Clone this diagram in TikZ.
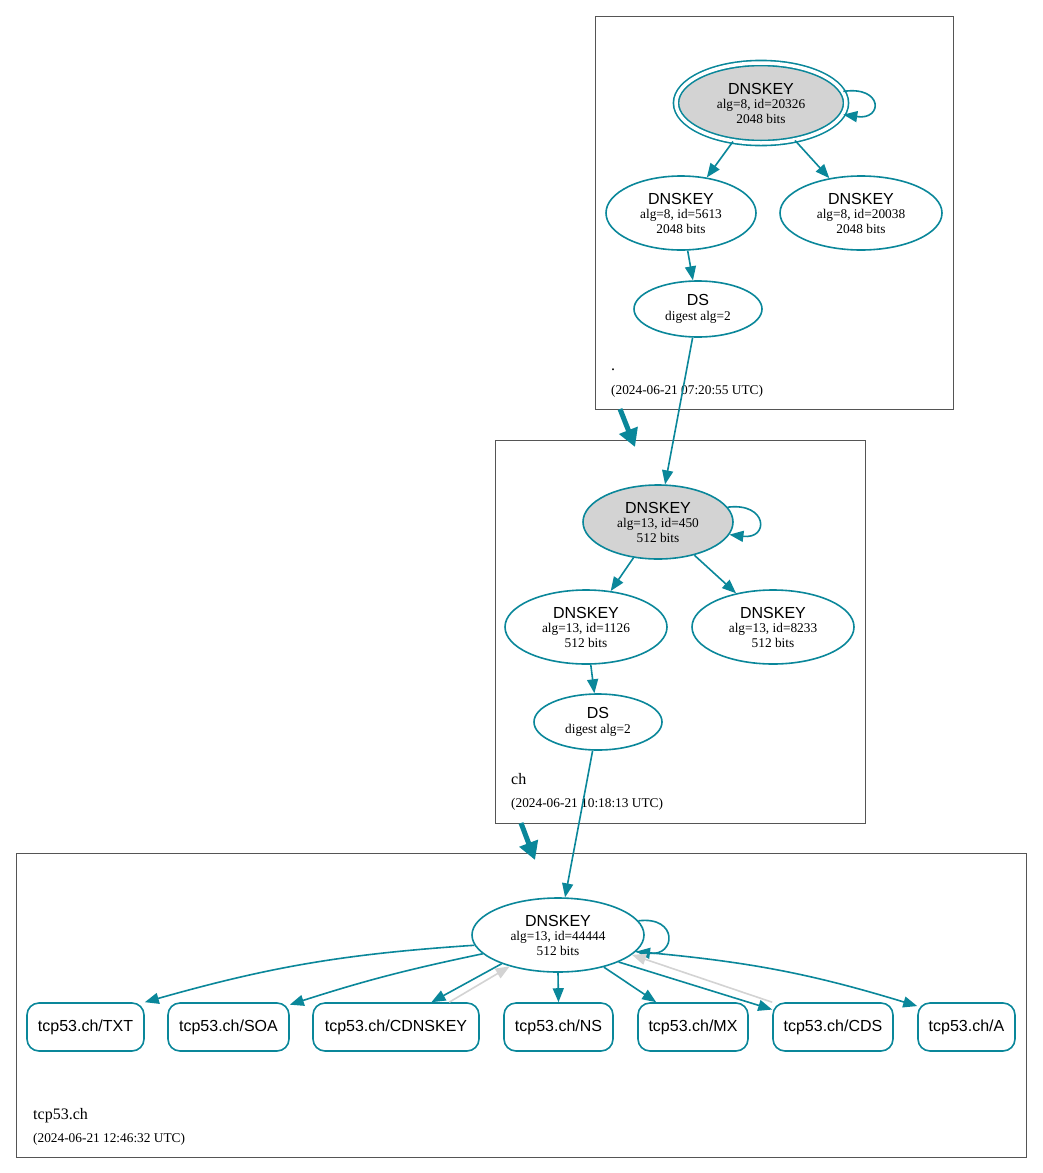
\documentclass[tikz,border=0pt]{standalone}
\usepackage{fontspec}
\setmainfont{Liberation Serif}
\setsansfont{Liberation Sans}
\usetikzlibrary{shapes.geometric,arrows.meta}
\definecolor{dteal}{HTML}{0A879A}
\definecolor{kgray}{HTML}{D3D3D3}
\definecolor{framec}{HTML}{555555}
\begin{document}
\begin{tikzpicture}[x=1pt,y=1pt,
 key/.style={ellipse, draw=dteal, line width=1.6pt, inner sep=0pt, align=center,
   font=\fontsize{13.33}{14.5}\selectfont},
 rr/.style={draw=dteal, line width=1.6pt, rounded corners=12pt, minimum height=48pt,
   inner sep=0pt, font=\fontsize{16}{18}\selectfont\sffamily},
 e/.style={draw=dteal, line width=1.6pt, -{Triangle[length=14pt,width=11pt]}},
 eg/.style={draw=kgray, line width=1.6pt, -{Triangle[length=14pt,width=11pt]}},
 fat/.style={draw=dteal, line width=5pt, -{Triangle[length=18pt,width=19pt]}},
 clus/.style={draw=framec, line width=0.8pt},
 clab/.style={anchor=base west, inner sep=0pt, font=\fontsize{16}{18}\selectfont},
 cts/.style={anchor=base west, inner sep=0pt, font=\fontsize{13.33}{15}\selectfont}]
\useasboundingbox (0,0) rectangle (1043,-1173);
\fill[white] (0,0) rectangle (1043,-1173);

% clusters
\draw[clus] (595,-16) rectangle (953,-409);
\draw[clus] (495,-440) rectangle (865,-823);
\draw[clus] (16,-853) rectangle (1026,-1157);

\node[clab] (l1) at (611,-370) {.};
\node[cts] (t1) at (611,-394) {(2024-06-21 07:20:55 UTC)};
\node[clab] (l2) at (511,-784) {ch};
\node[cts] (t2) at (511,-807) {(2024-06-21 10:18:13 UTC)};
\node[clab] (l3) at (33,-1119) {tcp53.ch};
\node[cts] (t3) at (33,-1142) {(2024-06-21 12:46:32 UTC)};

% root zone
\node[key, minimum width=170pt, minimum height=80pt, fill=kgray, double=white, double distance=3.5pt]
  (k1) at (761,-103) {{\fontsize{16}{16}\selectfont\sffamily DNSKEY}\\alg=8, id=20326\\2048 bits};
\node[key, minimum width=150pt, minimum height=74pt] (z1) at (681,-213)
  {{\fontsize{16}{16}\selectfont\sffamily DNSKEY}\\alg=8, id=5613\\2048 bits};
\node[key, minimum width=162pt, minimum height=74pt] (z2) at (861,-213)
  {{\fontsize{16}{16}\selectfont\sffamily DNSKEY}\\alg=8, id=20038\\2048 bits};
\node[key, minimum width=128pt, minimum height=56pt] (ds1) at (698,-309)
  {{\fontsize{16}{16}\selectfont\sffamily DS}\\digest alg=2};

% ch zone
\node[key, minimum width=150pt, minimum height=74pt, fill=kgray] (k2) at (658,-522)
  {{\fontsize{16}{16}\selectfont\sffamily DNSKEY}\\alg=13, id=450\\512 bits};
\node[key, minimum width=162pt, minimum height=74pt] (z3) at (586,-627)
  {{\fontsize{16}{16}\selectfont\sffamily DNSKEY}\\alg=13, id=1126\\512 bits};
\node[key, minimum width=162pt, minimum height=74pt] (z4) at (773,-627)
  {{\fontsize{16}{16}\selectfont\sffamily DNSKEY}\\alg=13, id=8233\\512 bits};
\node[key, minimum width=128pt, minimum height=56pt] (ds2) at (598,-722)
  {{\fontsize{16}{16}\selectfont\sffamily DS}\\digest alg=2};

% tcp53.ch zone
\node[key, minimum width=172pt, minimum height=74pt] (k3) at (558,-935)
  {{\fontsize{16}{16}\selectfont\sffamily DNSKEY}\\alg=13, id=44444\\512 bits};
\node[rr, minimum width=117pt] (txt) at (85.5,-1027) {tcp53.ch/TXT};
\node[rr, minimum width=121pt] (soa) at (228.5,-1027) {tcp53.ch/SOA};
\node[rr, minimum width=166pt] (cdnskey) at (396,-1027) {tcp53.ch/CDNSKEY};
\node[rr, minimum width=109pt] (ns) at (558.5,-1027) {tcp53.ch/NS};
\node[rr, minimum width=110pt] (mx) at (693,-1027) {tcp53.ch/MX};
\node[rr, minimum width=120pt] (cds) at (833,-1027) {tcp53.ch/CDS};
\node[rr, minimum width=97pt] (arec) at (966.5,-1027) {tcp53.ch/A};

% delegation arrows
\coordinate (d1a) at (620,-409);
\coordinate (d1b) at (635,-447);
\coordinate (d2a) at (521,-823);
\coordinate (d2b) at (535,-860);
\draw[fat] (d1a) -- (d1b);
\draw[fat] (d2a) -- (d2b);

% edges root
\draw[e] (k1.8) .. controls +(40,6) and +(40,-6) .. (k1.-8);
\draw[e] (k1) -- (z1);
\draw[e] (k1) -- (z2);
\draw[e] (z1) -- (ds1);
\draw[e] (ds1) -- (k2);

% edges ch
\draw[e] (k2.12) .. controls +(40,5) and +(40,-5) .. (k2.-10);
\draw[e] (k2) -- (z3);
\draw[e] (k2) -- (z4);
\draw[e] (z3) -- (ds2);
\draw[e] (ds2) -- (k3);

% edges tcp53.ch
\draw[e] (k3.10) .. controls +(40,5) and +(40,-5) .. (k3.-12);
\draw[e] (k3.187) to[bend right=6] (txt.north east);
\draw[e] (k3.194) to[bend right=3] (soa.20);
\draw[e] (k3.207) -- (cdnskey.35);
\draw[eg] (cdnskey.25) -- (k3.213);
\draw[e] (k3.south) -- (ns.north);
\draw[e] (k3.325) -- (mx.146);
\draw[e] (k3.336) -- (cds.164);
\draw[eg] (cds.north west) -- (k3.345);
\draw[e] (k3.348) to[bend left=6] (arec.157);
\end{tikzpicture}
\end{document}
